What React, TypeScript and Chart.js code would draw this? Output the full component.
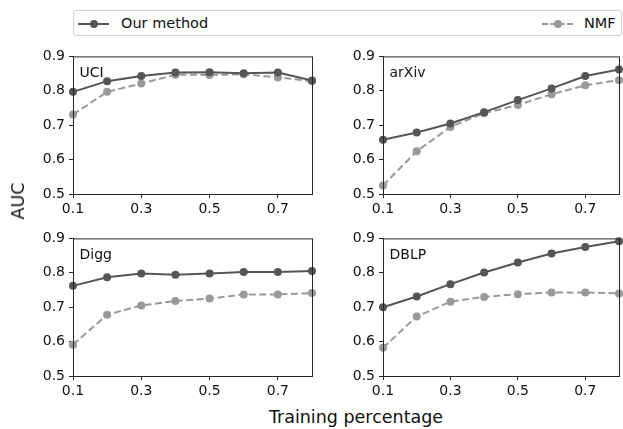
import React, { useEffect, useRef } from "react";
import { Chart, registerables } from "chart.js";

Chart.register(...registerables);

const xValues = [0.1, 0.2, 0.3, 0.4, 0.5, 0.6, 0.7, 0.8];
const xTicks = [0.1, 0.3, 0.5, 0.7];
const yTicks = [0.5, 0.6, 0.7, 0.8, 0.9];
const seriesNames = ["Our method", "NMF"];
const panelNames = ["UCI", "arXiv", "Digg", "DBLP"];

const oursUCI = [0.797, 0.828, 0.843, 0.853, 0.854, 0.851, 0.853, 0.83];
const nmfUCI = [0.731, 0.797, 0.821, 0.847, 0.846, 0.848, 0.839, 0.828];
const oursArxiv = [0.658, 0.679, 0.705, 0.738, 0.773, 0.807, 0.843, 0.862];
const nmfArxiv = [0.525, 0.624, 0.695, 0.735, 0.759, 0.79, 0.816, 0.831];
const oursDigg = [0.762, 0.787, 0.798, 0.794, 0.798, 0.802, 0.802, 0.805];
const nmfDigg = [0.591, 0.678, 0.705, 0.718, 0.725, 0.737, 0.737, 0.741];
const oursDBLP = [0.7, 0.731, 0.767, 0.801, 0.83, 0.856, 0.875, 0.892];
const nmfDBLP = [0.582, 0.673, 0.716, 0.73, 0.738, 0.743, 0.743, 0.74];

const OUR_COLOR = "#555555";
const NMF_COLOR = "#999999";
const AXIS_COLOR = "#262626";
const FONT = "'DejaVu Sans', sans-serif";

const LEFT_AXIS_W = 50;
const BOTTOM_AXIS_H = 30;
const PAD_TOP = 10;

type Box = { L: number; T: number; R: number; B: number; padR: number };

function Panel({ label, ours, nmf, box }: { label: string; ours: number[]; nmf: number[]; box: Box }) {
  const ref = useRef<HTMLCanvasElement | null>(null);
  const width = LEFT_AXIS_W + (box.R - box.L) + box.padR;
  const height = PAD_TOP + (box.B - box.T) + BOTTOM_AXIS_H;

  useEffect(() => {
    if (!ref.current) return;
    const framePlugin = {
      id: "frameAndLabel",
      afterDraw(chart: any) {
        const { ctx, chartArea } = chart;
        ctx.save();
        ctx.strokeStyle = AXIS_COLOR;
        ctx.lineWidth = 1;
        ctx.strokeRect(chartArea.left + 0.5, chartArea.top + 0.5, chartArea.right - chartArea.left, chartArea.bottom - chartArea.top);
        ctx.fillStyle = "#111";
        ctx.font = `14px ${FONT}`;
        ctx.textBaseline = "middle";
        ctx.textAlign = "left";
        ctx.fillText(label, chartArea.left + 6.5, chartArea.top + 16.5);
        ctx.restore();
      },
    };
    const chart = new Chart(ref.current, {
      type: "line",
      data: {
        datasets: [
          {
            label: seriesNames[0],
            data: xValues.map((x, i) => ({ x, y: ours[i] })),
            borderColor: OUR_COLOR,
            backgroundColor: OUR_COLOR,
            borderWidth: 2,
            pointRadius: 4,
            pointBorderWidth: 0,
            pointBackgroundColor: OUR_COLOR,
            tension: 0,
            clip: false as any,
          },
          {
            label: seriesNames[1],
            data: xValues.map((x, i) => ({ x, y: nmf[i] })),
            borderColor: NMF_COLOR,
            backgroundColor: NMF_COLOR,
            borderWidth: 2,
            borderDash: [7, 3.5],
            pointRadius: 4,
            pointBorderWidth: 0,
            pointBackgroundColor: NMF_COLOR,
            tension: 0,
            clip: false as any,
          },
        ],
      },
      options: {
        animation: false,
        responsive: false,
        maintainAspectRatio: false,
        layout: { padding: { top: PAD_TOP, right: box.padR, left: 0, bottom: 0 } },
        plugins: { legend: { display: false }, tooltip: { enabled: false } },
        scales: {
          x: {
            type: "linear",
            min: 0.1,
            max: 0.8,
            afterBuildTicks: (axis: any) => {
              axis.ticks = xTicks.map((v) => ({ value: v }));
            },
            afterFit: (axis: any) => {
              axis.height = BOTTOM_AXIS_H;
            },
            grid: { drawOnChartArea: false, drawTicks: true, tickLength: 4, color: AXIS_COLOR },
            border: { display: true, color: AXIS_COLOR },
            ticks: {
              autoSkip: false,
              maxRotation: 0,
              padding: 3,
              color: "#111",
              font: { family: FONT, size: 14 },
              callback: (v: any) => Number(v).toFixed(1),
            },
          },
          y: {
            type: "linear",
            min: 0.5,
            max: 0.9,
            afterBuildTicks: (axis: any) => {
              axis.ticks = yTicks.map((v) => ({ value: v }));
            },
            afterFit: (axis: any) => {
              axis.width = LEFT_AXIS_W;
            },
            grid: { drawOnChartArea: false, drawTicks: true, tickLength: 4, color: AXIS_COLOR },
            border: { display: true, color: AXIS_COLOR },
            ticks: {
              padding: 4,
              color: "#111",
              font: { family: FONT, size: 14 },
              callback: (v: any) => Number(v).toFixed(1),
            },
          },
        },
      } as any,
      plugins: [framePlugin],
    });
    return () => chart.destroy();
  }, []);

  return (
    <canvas
      ref={ref}
      width={width}
      height={height}
      style={{
        position: "absolute",
        left: box.L - LEFT_AXIS_W,
        top: box.T - PAD_TOP,
        width,
        height,
      }}
    />
  );
}

function LegendItem({ color, dashed }: { color: string; dashed: boolean }) {
  return (
    <div style={{ position: "relative", width: 31, height: 10 }}>
      <div
        style={{
          position: "absolute",
          left: 0,
          right: 0,
          top: 4,
          borderTop: `2px ${dashed ? "dashed" : "solid"} ${color}`,
        }}
      />
      <div
        style={{
          position: "absolute",
          left: 11.5,
          top: 1,
          width: 8,
          height: 8,
          borderRadius: 4,
          background: color,
        }}
      />
    </div>
  );
}

export default function App() {
  const boxes: Box[] = [
    { L: 73, T: 54, R: 312, B: 194, padR: 8 },
    { L: 383, T: 54, R: 621, B: 194, padR: 2 },
    { L: 73, T: 236, R: 312, B: 376, padR: 8 },
    { L: 383, T: 236, R: 621, B: 376, padR: 2 },
  ];
  const ours = [oursUCI, oursArxiv, oursDigg, oursDBLP];
  const nmfs = [nmfUCI, nmfArxiv, nmfDigg, nmfDBLP];
  return (
    <div
      style={{
        position: "fixed",
        left: 0,
        top: 0,
        width: 623,
        height: 429,
        background: "#fff",
        overflow: "hidden",
        fontFamily: FONT,
        color: "#111",
      }}
    >
      <div
        style={{
          position: "absolute",
          left: 73,
          top: 10,
          width: 547,
          height: 24,
          border: "1px solid #d0d0d0",
          borderRadius: 3,
        }}
      >
        <div style={{ position: "absolute", left: 4, top: 8 }}>
          <LegendItem color={OUR_COLOR} dashed={false} />
        </div>
        <div style={{ position: "absolute", left: 47, top: 2, fontSize: 14.5, lineHeight: "20px", whiteSpace: "nowrap" }}>
          {seriesNames[0]}
        </div>
        <div style={{ position: "absolute", left: 468, top: 8 }}>
          <LegendItem color={NMF_COLOR} dashed={true} />
        </div>
        <div style={{ position: "absolute", left: 510, top: 2, fontSize: 14.5, lineHeight: "20px", whiteSpace: "nowrap" }}>
          {seriesNames[1]}
        </div>
      </div>
      {boxes.map((b, i) => (
        <Panel key={panelNames[i]} label={panelNames[i]} ours={ours[i]} nmf={nmfs[i]} box={b} />
      ))}
      <div
        style={{
          position: "absolute",
          left: 17.5,
          top: 201,
          transform: "translate(-50%, -50%) rotate(-90deg)",
          fontSize: 17.5,
          whiteSpace: "nowrap",
          lineHeight: "20px",
        }}
      >
        AUC
      </div>
      <div
        style={{
          position: "absolute",
          left: 356,
          top: 417,
          transform: "translate(-50%, -50%)",
          fontSize: 17.5,
          whiteSpace: "nowrap",
          lineHeight: "20px",
        }}
      >
        Training percentage
      </div>
    </div>
  );
}
